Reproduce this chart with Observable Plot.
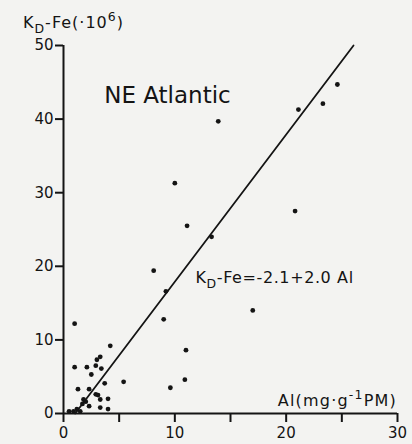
<!DOCTYPE html>
<html>
<head>
<meta charset="utf-8">
<script src="https://cdn.jsdelivr.net/npm/d3@7"></script>
<script src="https://cdn.jsdelivr.net/npm/@observablehq/plot@0.6"></script>
<style>
  html, body { margin: 0; padding: 0; background: #f3f3f1; }
  #chart svg { display: block; }
</style>
</head>
<body>
<div id="chart"></div>
<script>
// Particulate Al (mg per g of particulate matter) for each sample
const alValues = [
  24.6, 23.3, 21.1, 13.9, 10.0, 11.1, 20.8, 13.3, 8.1, 9.2,
  17.0, 1.0, 9.0, 11.0, 10.9, 9.6, 5.4, 4.2, 3.3, 3.0,
  1.0, 2.1, 2.9, 3.4, 2.5, 3.7, 1.3, 2.3, 2.9, 3.1,
  3.3, 4.0, 1.8, 2.0, 1.7, 1.2, 0.9, 0.5, 1.5, 3.3,
  4.0, 2.3
];
// Distribution coefficient of Fe (x 10^6) for the same samples
const kdValues = [
  44.7, 42.1, 41.3, 39.7, 31.3, 25.5, 27.5, 24.0, 19.4, 16.6,
  14.0, 12.2, 12.8, 8.6, 4.6, 3.5, 4.3, 9.2, 7.7, 7.3,
  6.3, 6.3, 6.5, 6.1, 5.3, 4.1, 3.3, 3.3, 2.6, 2.5,
  1.9, 2.0, 1.9, 1.6, 1.3, 0.6, 0.3, 0.3, 0.3, 0.8,
  0.6, 1.0
];

// Least-squares fit KD-Fe = a + b * Al and the Al range it is drawn over
const fitIntercept = -2.1;
const fitSlope = 2.0;
const fitAlRange = [1.05, 26.05];

const xTicks = [0, 5, 10, 15, 20, 25, 30];
const xTickLabels = [0, 10, 20, 30];
const yTicks = [0, 10, 20, 30, 40, 50];

const regionLabel = "NE Atlantic";

const points = alValues.map((al, i) => ({al, kd: kdValues[i]}));
const fit = fitAlRange.map(al => ({al, kd: fitIntercept + fitSlope * al}));

const ink = "#141414";
const font = "DejaVu Sans";

const chart = Plot.plot({
  width: 412,
  height: 444,
  marginLeft: 63,
  marginRight: 15,
  marginTop: 45,
  marginBottom: 31,
  style: {background: "transparent", fontFamily: font, color: ink, fontSize: "15px"},
  x: {domain: [0, 30]},
  y: {domain: [0, 50]},
  marks: [
    Plot.ruleY([0], {x1: 0, x2: 30, stroke: ink, strokeWidth: 2}),
    Plot.ruleX([0], {y1: 0, y2: 50, stroke: ink, strokeWidth: 2}),
    Plot.axisX({
      ticks: xTicks, tickSize: 9, tickPadding: 5, label: null,
      tickFormat: d => xTickLabels.includes(d) ? String(d) : "",
      stroke: ink, strokeWidth: 2, fill: ink, fontSize: 15
    }),
    Plot.axisY({
      ticks: yTicks, tickSize: 8, tickPadding: 2, label: null,
      stroke: ink, strokeWidth: 2, fill: ink, fontSize: 15
    }),
    Plot.line(fit, {x: "al", y: "kd", stroke: ink, strokeWidth: 1.8}),
    Plot.dot(points, {x: "al", y: "kd", r: 2.4, fill: ink, stroke: "none"})
  ]
});

document.getElementById("chart").append(chart);

// Labels with sub- and superscripts, placed through the chart's scales
const sx = chart.scale("x").apply;
const sy = chart.scale("y").apply;
const svg = d3.select(chart);

function addLabel(x, y, segments, {size, anchor = "start", spacing = 0}) {
  const text = svg.append("text")
    .attr("x", x).attr("y", y)
    .attr("font-family", font)
    .attr("font-size", size)
    .attr("letter-spacing", spacing)
    .attr("text-anchor", anchor)
    .attr("fill", ink);
  let offset = 0;
  for (const [str, kind] of segments) {
    const target = kind === "sub" ? 0.3 * size : kind === "sup" ? -0.45 * size : 0;
    text.append("tspan")
      .attr("dy", target - offset)
      .attr("font-size", kind ? size * 0.78 : size)
      .text(str);
    offset = target;
  }
  return text;
}

// y-axis title
addLabel(23, 28, [["K"], ["D", "sub"], ["-Fe(·10"], ["6", "sup"], [")"]], {size: 16, spacing: 1});

// region name
addLabel(sx(3.7), sy(42.1), [[regionLabel]], {size: 23});

// regression equation
addLabel(sx(11.9), sy(17.6),
  [["K"], ["D", "sub"], [`-Fe=${fitIntercept.toFixed(1)}+${fitSlope.toFixed(1)} Al`]],
  {size: 16, spacing: 0.6});

// x-axis title
addLabel(sx(30), sy(0) - 7, [["Al(mg·g"], ["-1", "sup"], ["PM)"]], {size: 16, anchor: "end", spacing: 1.2});
</script>
</body>
</html>
